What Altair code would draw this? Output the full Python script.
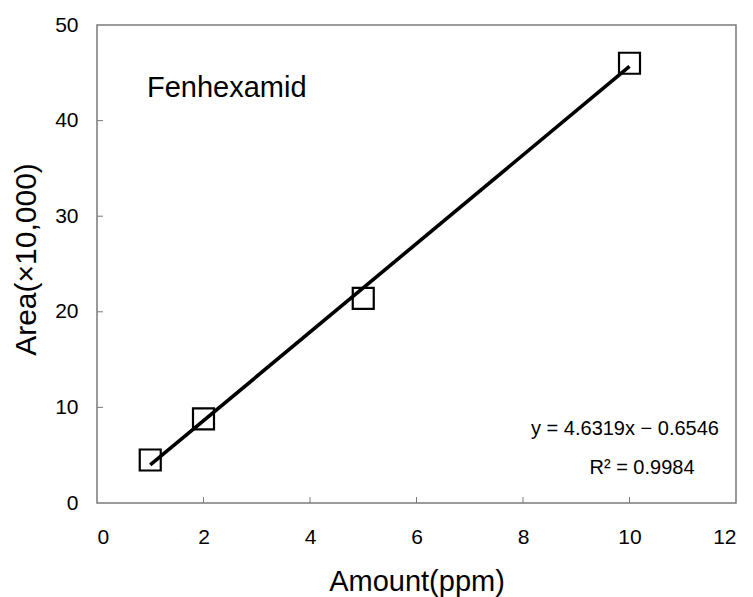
import altair as alt
import pandas as pd

# Calibration data: injected amount (ppm) vs. peak area (x10,000)
amount = [1, 2, 5, 10]
area = [4.5, 8.8, 21.4, 46.0]

# Linear fit reported for the calibration
slope = 4.6319
intercept = -0.6546
r_squared = 0.9984
fit_range = [1, 10]

x_ticks = [0, 2, 4, 6, 8, 10, 12]
y_ticks = [0, 10, 20, 30, 40, 50]
inner_x_ticks = [2, 4, 6, 8, 10]
inner_y_ticks = [10, 20, 30, 40]
compound = "Fenhexamid"

FONT = "Liberation Sans"
W, H = 639, 478
FRAME = "#7a7a7a"

points = pd.DataFrame({"amount": amount, "area": area})
fit = pd.DataFrame({"amount": fit_range})

x_scale = alt.Scale(domain=[0, 12], nice=False)
y_scale = alt.Scale(domain=[0, 50], nice=False)

x_axis = alt.Axis(
    values=x_ticks, grid=False, domain=False, ticks=False, tickSize=0,
    labelFont=FONT, labelFontSize=21, labelColor="black", labelPadding=23,
    title="Amount(ppm)", titleFont=FONT, titleFontSize=29, titleFontWeight="normal",
    titleColor="black", titleY=87, titleBaseline="alphabetic",
)
y_axis = alt.Axis(
    values=y_ticks, grid=False, domain=False, ticks=False, tickSize=0,
    labelFont=FONT, labelFontSize=21, labelColor="black", labelPadding=19,
    title="Area(×10,000)", titleFont=FONT, titleFontSize=30, titleFontWeight="normal",
    titleColor="black", titleX=-62, titleY=234, titleBaseline="alphabetic",
    titleAngle=270,
)

markers = alt.Chart(points).mark_point(
    shape="square", size=441, filled=False, stroke="black", strokeWidth=2.2, opacity=1
).encode(
    x=alt.X("amount:Q", scale=x_scale, axis=x_axis),
    y=alt.Y("area:Q", scale=y_scale, axis=y_axis),
)

fit_line = alt.Chart(fit).transform_calculate(
    area=f"{slope} * datum.amount + ({intercept})"
).mark_line(color="black", strokeWidth=3.6).encode(
    x=alt.X("amount:Q", scale=x_scale),
    y=alt.Y("area:Q", scale=y_scale),
)

# Inward-pointing tick marks on the left and bottom edges
y_tick_marks = alt.Chart(pd.DataFrame({"v": inner_y_ticks})).mark_rule(
    color=FRAME, strokeWidth=1
).encode(y=alt.Y("v:Q", scale=y_scale), x=alt.value(0), x2=alt.value(6))

x_tick_marks = alt.Chart(pd.DataFrame({"v": inner_x_ticks})).mark_rule(
    color=FRAME, strokeWidth=1
).encode(x=alt.X("v:Q", scale=x_scale), y=alt.value(H), y2=alt.value(H - 6))

label = alt.Chart(pd.DataFrame({"t": [compound]})).mark_text(
    font=FONT, fontSize=29, align="left", baseline="alphabetic", color="black"
).encode(text="t:N", x=alt.value(50), y=alt.value(72))

eq_text = f"y = {slope}x − {abs(intercept)}"
r_text = f"R² = {r_squared}"

equation = alt.Chart(pd.DataFrame({"t": [eq_text]})).mark_text(
    font=FONT, fontSize=20, align="center", baseline="alphabetic", color="black"
).encode(text="t:N", x=alt.value(528), y=alt.value(410))

r2 = alt.Chart(pd.DataFrame({"t": [r_text]})).mark_text(
    font=FONT, fontSize=20, align="center", baseline="alphabetic", color="black"
).encode(text="t:N", x=alt.value(545), y=alt.value(449))

chart = alt.layer(
    y_tick_marks, x_tick_marks, markers, fit_line, label, equation, r2
).properties(
    width=W, height=H,
    autosize=alt.AutoSizeParams(type="none"),
    padding={"left": 97, "top": 25, "right": 17, "bottom": 94},
    background="white",
).configure_view(stroke=FRAME, strokeWidth=1.5)

chart.save("out.html", embed_options={"renderer": "svg", "actions": False})
